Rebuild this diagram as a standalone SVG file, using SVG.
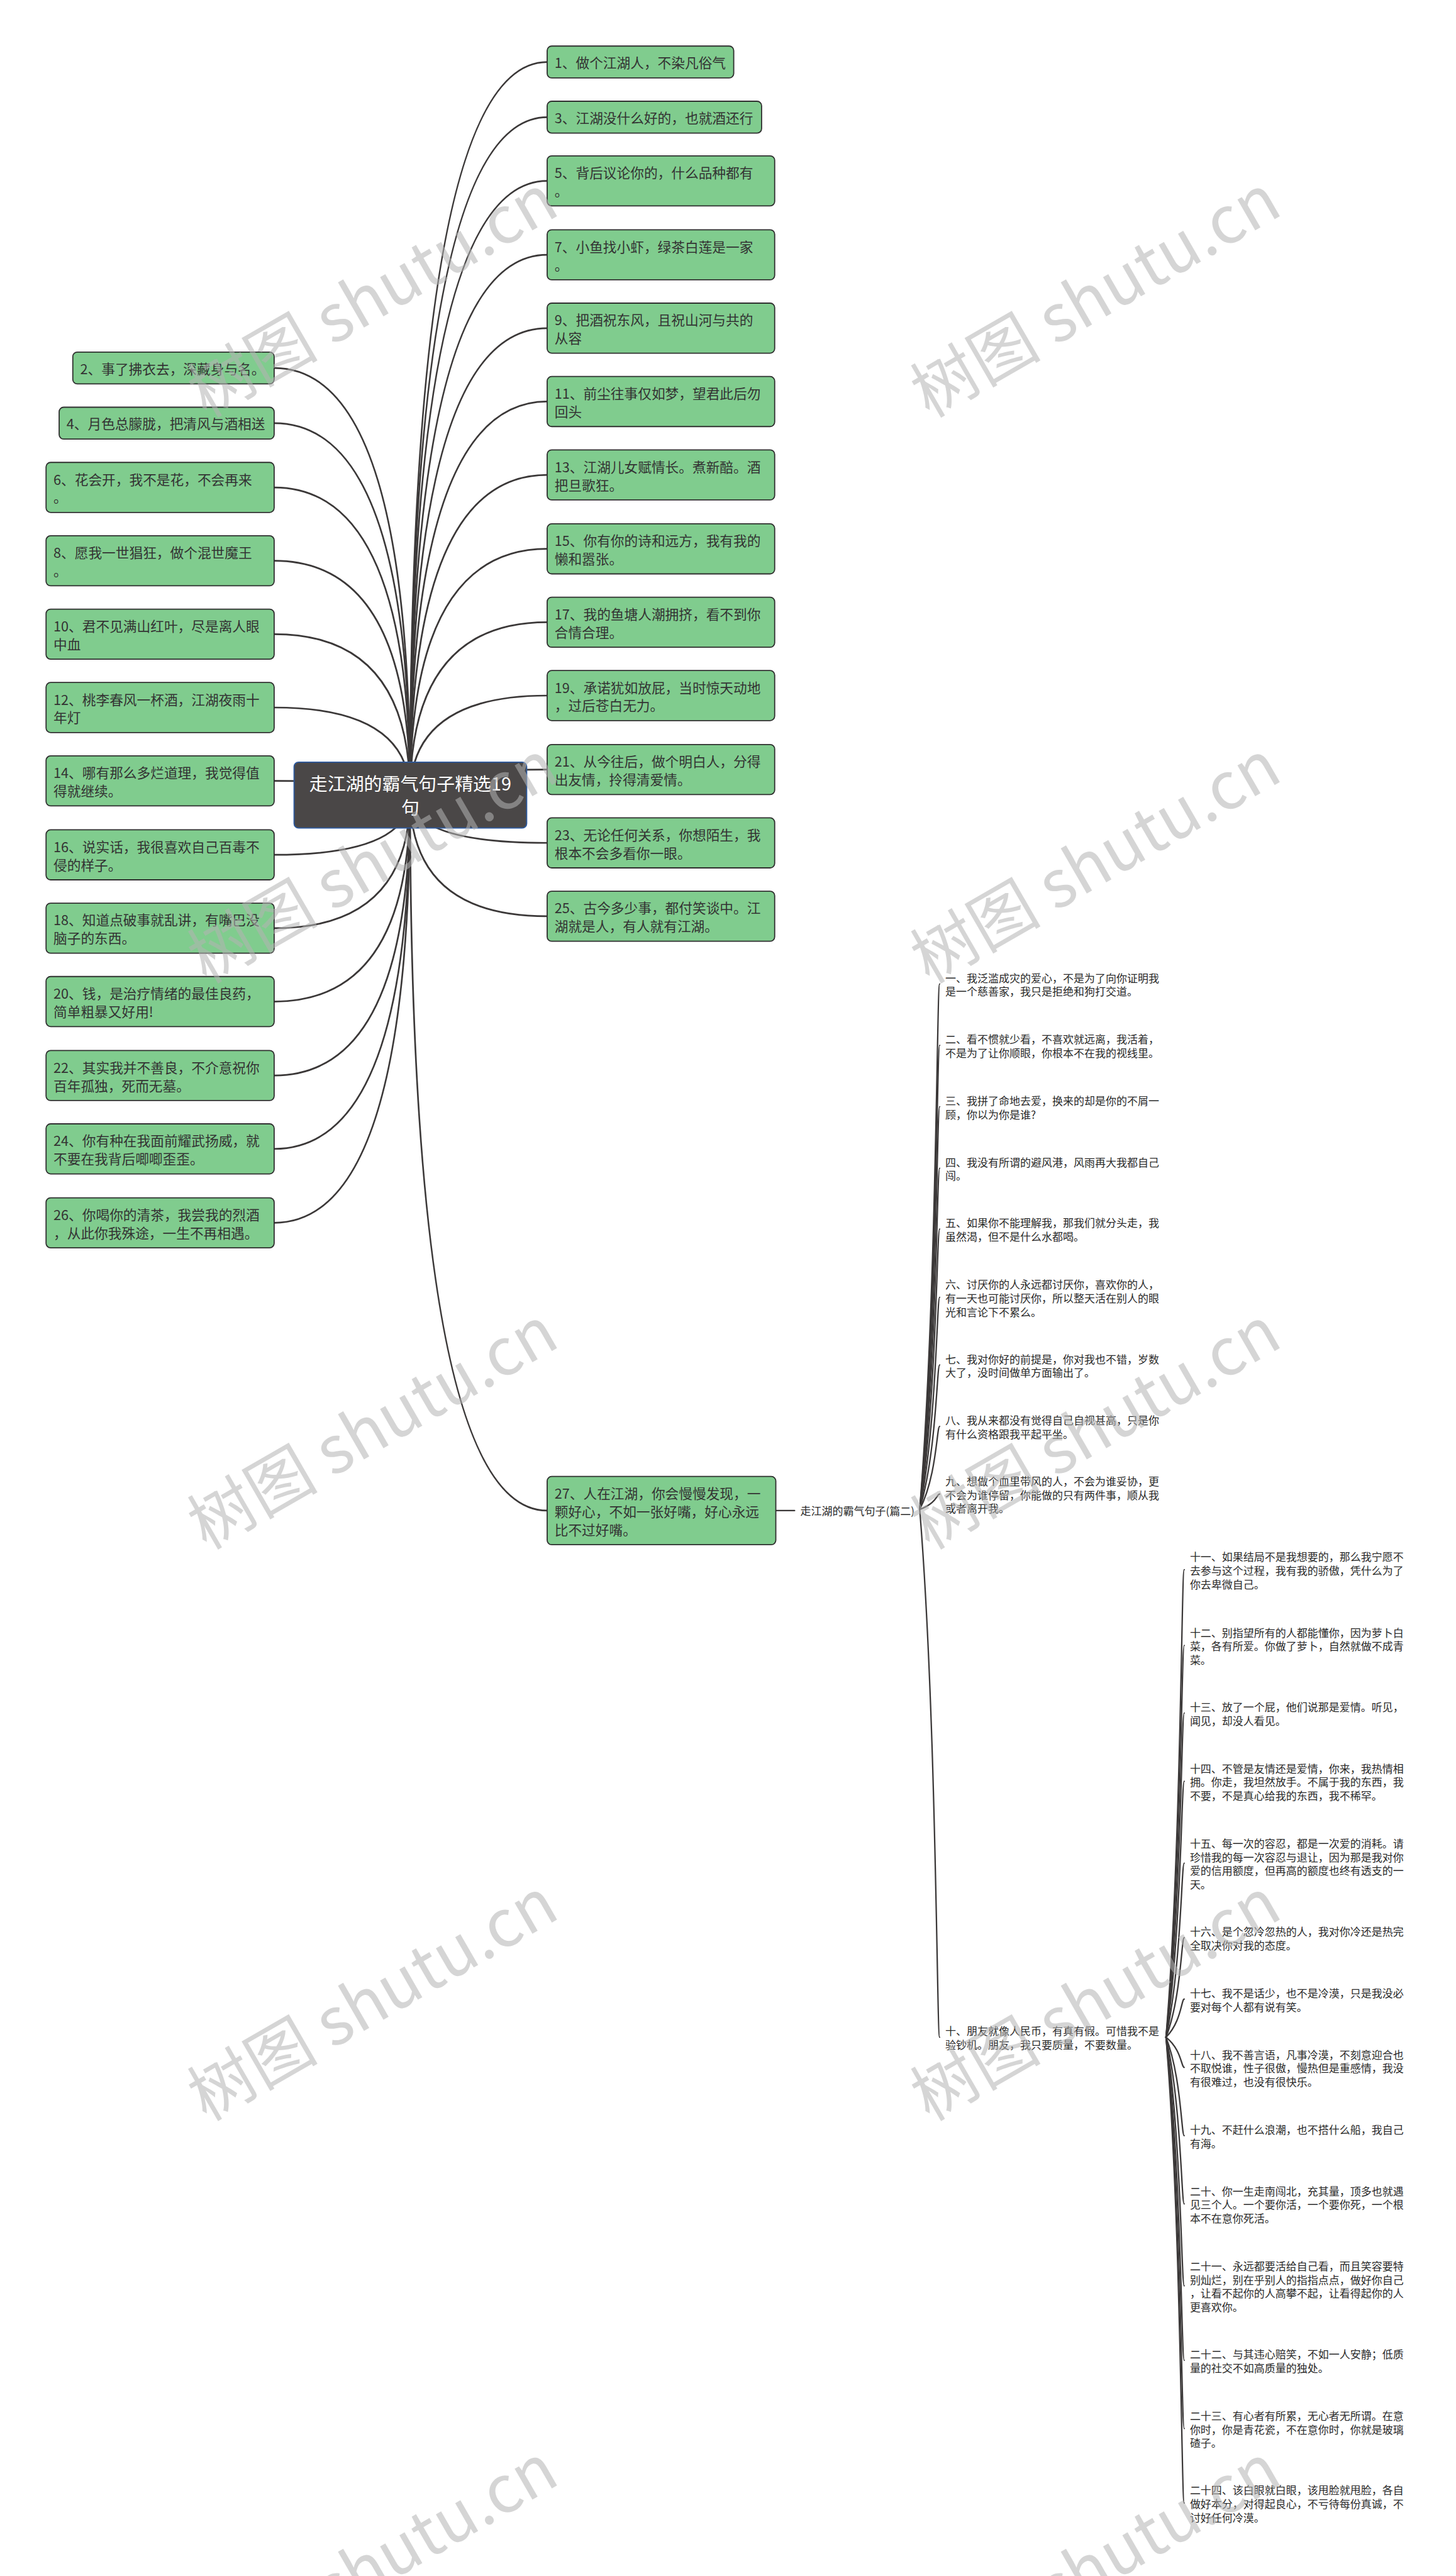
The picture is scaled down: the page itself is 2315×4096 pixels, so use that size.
<svg xmlns="http://www.w3.org/2000/svg" width="2315" height="4096" viewBox="0 0 2315 4096">
<style>
.bg{fill:#ffffff}
.n rect{fill:#80cc8e;stroke:#2f2f2f;stroke-width:2}
.t{font-family:"Noto Sans CJK SC","Noto Sans",sans-serif;font-size:24px;fill:#333333;dominant-baseline:central}
.s{font-family:"Noto Sans CJK SC","Noto Sans",sans-serif;font-size:18.8px;fill:#2a2a2a;dominant-baseline:central}
.c path{fill:none;stroke:#3b3838;stroke-width:3;stroke-linecap:round}
.c2 path{fill:none;stroke:#3b3838;stroke-width:2.5;stroke-linecap:round}
.root rect{fill:#4a4747;stroke:#2c5aa0;stroke-width:2}
.rt{font-family:"Noto Sans CJK SC","Noto Sans",sans-serif;font-size:32px;fill:#ffffff;dominant-baseline:central;text-anchor:middle}
.wm{font-family:"Noto Sans CJK SC","Liberation Serif",serif;font-size:115px;fill:#b4b4b4;opacity:0.55;text-anchor:middle;dominant-baseline:central}
</style>
<rect class="bg" x="0" y="0" width="2315" height="4096"/>
<g transform="scale(0.90434)">
<g id="connectors" class="c">
<path d="M721 1398 Q721 109 962 109"/>
<path d="M721 1398 Q721 206 962 206"/>
<path d="M721 1398 Q721 318 962 318"/>
<path d="M721 1398 Q721 448 962 448"/>
<path d="M721 1398 Q721 577 962 577"/>
<path d="M721 1398 Q721 706 962 706"/>
<path d="M721 1398 Q721 835 962 835"/>
<path d="M721 1398 Q721 965 962 965"/>
<path d="M721 1398 Q721 1094 962 1094"/>
<path d="M721 1398 Q721 1223 962 1223"/>
<path d="M721 1398 Q721 1353 962 1353"/>
<path d="M721 1398 Q721 1482 962 1482"/>
<path d="M721 1398 Q721 1611 962 1611"/>
<path d="M721 1398 Q721 2656 962 2656"/>
<path d="M721 1398 Q721 647 482 647"/>
<path d="M721 1398 Q721 744 482 744"/>
<path d="M721 1398 Q721 857 482 857"/>
<path d="M721 1398 Q721 986 482 986"/>
<path d="M721 1398 Q721 1115 482 1115"/>
<path d="M721 1398 Q721 1244 482 1244"/>
<path d="M721 1398 Q721 1373 482 1373"/>
<path d="M721 1398 Q721 1503 482 1503"/>
<path d="M721 1398 Q721 1632 482 1632"/>
<path d="M721 1398 Q721 1761 482 1761"/>
<path d="M721 1398 Q721 1891 482 1891"/>
<path d="M721 1398 Q721 2020 482 2020"/>
<path d="M721 1398 Q721 2150 482 2150"/>
</g>
<g id="connectors-sub" class="c2">
<path d="M1364 2656 L1397 2656"/>
<path d="M1617 2654 C1647 2284 1647 1730 1652 1730"/>
<path d="M1617 2654 C1647 2328 1647 1838 1652 1838"/>
<path d="M1617 2654 C1647 2371 1647 1946 1652 1946"/>
<path d="M1617 2654 C1647 2414 1647 2054 1652 2054"/>
<path d="M1617 2654 C1647 2457 1647 2161 1652 2161"/>
<path d="M1617 2654 C1647 2505 1647 2281 1652 2281"/>
<path d="M1617 2654 C1647 2552 1647 2400 1652 2400"/>
<path d="M1617 2654 C1647 2596 1647 2508 1652 2508"/>
<path d="M1617 2654 C1647 2643 1647 2627 1652 2627"/>
<path d="M1617 2654 C1647 3025 1647 3582 1652 3582"/>
<path d="M2050 3582 C2077 3253 2077 2760 2082 2760"/>
<path d="M2050 3582 C2077 3306 2077 2893 2082 2893"/>
<path d="M2050 3582 C2077 3354 2077 3012 2082 3012"/>
<path d="M2050 3582 C2077 3402 2077 3132 2082 3132"/>
<path d="M2050 3582 C2077 3460 2077 3276 2082 3276"/>
<path d="M2050 3582 C2077 3512 2077 3407 2082 3407"/>
<path d="M2050 3582 C2077 3555 2077 3515 2082 3515"/>
<path d="M2050 3582 C2077 3603 2077 3635 2082 3635"/>
<path d="M2050 3582 C2077 3651 2077 3755 2082 3755"/>
<path d="M2050 3582 C2077 3699 2077 3875 2082 3875"/>
<path d="M2050 3582 C2077 3757 2077 4019 2082 4019"/>
<path d="M2050 3582 C2077 3809 2077 4150 2082 4150"/>
<path d="M2050 3582 C2077 3857 2077 4270 2082 4270"/>
<path d="M2050 3582 C2077 3910 2077 4401 2082 4401"/>
</g>
<g id="root" class="root">
<rect x="517" y="1340" width="409" height="116" rx="8"/>
<text class="rt"><tspan x="721.5" y="1376">走江湖的霸气句子精选19</tspan><tspan x="721.5" y="1418">句</tspan></text>
</g>
<g id="n1" class="n"><rect x="962" y="81" width="328" height="56" rx="8"/><text class="t" x="975" y="109">1、做个江湖人，不染凡俗气</text></g>
<g id="n3" class="n"><rect x="962" y="178" width="377" height="56" rx="8"/><text class="t" x="975" y="206">3、江湖没什么好的，也就酒还行</text></g>
<g id="n5" class="n"><rect x="962" y="274" width="400" height="88" rx="8"/><text class="t"><tspan x="975" y="302">5、背后议论你的，什么品种都有</tspan><tspan x="975" y="334">。</tspan></text></g>
<g id="n7" class="n"><rect x="962" y="404" width="400" height="88" rx="8"/><text class="t"><tspan x="975" y="432">7、小鱼找小虾，绿茶白莲是一家</tspan><tspan x="975" y="464">。</tspan></text></g>
<g id="n9" class="n"><rect x="962" y="533" width="400" height="88" rx="8"/><text class="t"><tspan x="975" y="561">9、把酒祝东风，且祝山河与共的</tspan><tspan x="975" y="593">从容</tspan></text></g>
<g id="n11" class="n"><rect x="962" y="662" width="400" height="88" rx="8"/><text class="t"><tspan x="975" y="690">11、前尘往事仅如梦，望君此后勿</tspan><tspan x="975" y="722">回头</tspan></text></g>
<g id="n13" class="n"><rect x="962" y="791" width="400" height="88" rx="8"/><text class="t"><tspan x="975" y="819">13、江湖儿女赋情长。煮新醅。酒</tspan><tspan x="975" y="851">把旦歌狂。</tspan></text></g>
<g id="n15" class="n"><rect x="962" y="921" width="400" height="88" rx="8"/><text class="t"><tspan x="975" y="949">15、你有你的诗和远方，我有我的</tspan><tspan x="975" y="981">懒和嚣张。</tspan></text></g>
<g id="n17" class="n"><rect x="962" y="1050" width="400" height="88" rx="8"/><text class="t"><tspan x="975" y="1078">17、我的鱼塘人潮拥挤，看不到你</tspan><tspan x="975" y="1110">合情合理。</tspan></text></g>
<g id="n19" class="n"><rect x="962" y="1179" width="400" height="88" rx="8"/><text class="t"><tspan x="975" y="1207">19、承诺犹如放屁，当时惊天动地</tspan><tspan x="975" y="1239">，过后苍白无力。</tspan></text></g>
<g id="n21" class="n"><rect x="962" y="1309" width="400" height="88" rx="8"/><text class="t"><tspan x="975" y="1337">21、从今往后，做个明白人，分得</tspan><tspan x="975" y="1369">出友情，拎得清爱情。</tspan></text></g>
<g id="n23" class="n"><rect x="962" y="1438" width="400" height="88" rx="8"/><text class="t"><tspan x="975" y="1466">23、无论任何关系，你想陌生，我</tspan><tspan x="975" y="1498">根本不会多看你一眼。</tspan></text></g>
<g id="n25" class="n"><rect x="962" y="1567" width="400" height="88" rx="8"/><text class="t"><tspan x="975" y="1595">25、古今多少事，都付笑谈中。江</tspan><tspan x="975" y="1627">湖就是人，有人就有江湖。</tspan></text></g>
<g id="n27" class="n"><rect x="962" y="2596" width="402" height="120" rx="8"/><text class="t"><tspan x="975" y="2624">27、人在江湖，你会慢慢发现，一</tspan><tspan x="975" y="2656">颗好心，不如一张好嘴，好心永远</tspan><tspan x="975" y="2688">比不过好嘴。</tspan></text></g>
<g id="n2" class="n"><rect x="128" y="619" width="354" height="56" rx="8"/><text class="t" x="141" y="647">2、事了拂衣去，深藏身与名。</text></g>
<g id="n4" class="n"><rect x="104" y="716" width="378" height="56" rx="8"/><text class="t" x="117" y="744">4、月色总朦胧，把清风与酒相送</text></g>
<g id="n6" class="n"><rect x="81" y="813" width="401" height="88" rx="8"/><text class="t"><tspan x="94" y="841">6、花会开，我不是花，不会再来</tspan><tspan x="94" y="873">。</tspan></text></g>
<g id="n8" class="n"><rect x="81" y="942" width="401" height="88" rx="8"/><text class="t"><tspan x="94" y="970">8、愿我一世猖狂，做个混世魔王</tspan><tspan x="94" y="1002">。</tspan></text></g>
<g id="n10" class="n"><rect x="81" y="1071" width="401" height="88" rx="8"/><text class="t"><tspan x="94" y="1099">10、君不见满山红叶，尽是离人眼</tspan><tspan x="94" y="1131">中血</tspan></text></g>
<g id="n12" class="n"><rect x="81" y="1200" width="401" height="88" rx="8"/><text class="t"><tspan x="94" y="1228">12、桃李春风一杯酒，江湖夜雨十</tspan><tspan x="94" y="1260">年灯</tspan></text></g>
<g id="n14" class="n"><rect x="81" y="1329" width="401" height="88" rx="8"/><text class="t"><tspan x="94" y="1357">14、哪有那么多烂道理，我觉得值</tspan><tspan x="94" y="1389">得就继续。</tspan></text></g>
<g id="n16" class="n"><rect x="81" y="1459" width="401" height="88" rx="8"/><text class="t"><tspan x="94" y="1487">16、说实话，我很喜欢自己百毒不</tspan><tspan x="94" y="1519">侵的样子。</tspan></text></g>
<g id="n18" class="n"><rect x="81" y="1588" width="401" height="88" rx="8"/><text class="t"><tspan x="94" y="1616">18、知道点破事就乱讲，有嘴巴没</tspan><tspan x="94" y="1648">脑子的东西。</tspan></text></g>
<g id="n20" class="n"><rect x="81" y="1717" width="401" height="88" rx="8"/><text class="t"><tspan x="94" y="1745">20、钱，是治疗情绪的最佳良药，</tspan><tspan x="94" y="1777">简单粗暴又好用!</tspan></text></g>
<g id="n22" class="n"><rect x="81" y="1847" width="401" height="88" rx="8"/><text class="t"><tspan x="94" y="1875">22、其实我并不善良，不介意祝你</tspan><tspan x="94" y="1907">百年孤独，死而无墓。</tspan></text></g>
<g id="n24" class="n"><rect x="81" y="1976" width="401" height="88" rx="8"/><text class="t"><tspan x="94" y="2004">24、你有种在我面前耀武扬威，就</tspan><tspan x="94" y="2036">不要在我背后唧唧歪歪。</tspan></text></g>
<g id="n26" class="n"><rect x="81" y="2106" width="401" height="88" rx="8"/><text class="t"><tspan x="94" y="2134">26、你喝你的清茶，我尝我的烈酒</tspan><tspan x="94" y="2166">，从此你我殊途，一生不再相遇。</tspan></text></g>
<g id="sub-label"><text class="s" x="1407" y="2656">走江湖的霸气句子(篇二)</text></g>
<g id="s1"><text class="s"><tspan x="1662" y="1718">一、我泛滥成灾的爱心，不是为了向你证明我</tspan><tspan x="1662" y="1742">是一个慈善家，我只是拒绝和狗打交道。</tspan></text></g>
<g id="s2"><text class="s"><tspan x="1662" y="1826">二、看不惯就少看，不喜欢就远离，我活着，</tspan><tspan x="1662" y="1850">不是为了让你顺眼，你根本不在我的视线里。</tspan></text></g>
<g id="s3"><text class="s"><tspan x="1662" y="1934">三、我拼了命地去爱，换来的却是你的不屑一</tspan><tspan x="1662" y="1958">顾，你以为你是谁?</tspan></text></g>
<g id="s4"><text class="s"><tspan x="1662" y="2042">四、我没有所谓的避风港，风雨再大我都自己</tspan><tspan x="1662" y="2066">闯。</tspan></text></g>
<g id="s5"><text class="s"><tspan x="1662" y="2149">五、如果你不能理解我，那我们就分头走，我</tspan><tspan x="1662" y="2173">虽然渴，但不是什么水都喝。</tspan></text></g>
<g id="s6"><text class="s"><tspan x="1662" y="2257">六、讨厌你的人永远都讨厌你，喜欢你的人，</tspan><tspan x="1662" y="2281">有一天也可能讨厌你，所以整天活在别人的眼</tspan><tspan x="1662" y="2305">光和言论下不累么。</tspan></text></g>
<g id="s7"><text class="s"><tspan x="1662" y="2388">七、我对你好的前提是，你对我也不错，岁数</tspan><tspan x="1662" y="2412">大了，没时间做单方面输出了。</tspan></text></g>
<g id="s8"><text class="s"><tspan x="1662" y="2496">八、我从来都没有觉得自己自视甚高，只是你</tspan><tspan x="1662" y="2520">有什么资格跟我平起平坐。</tspan></text></g>
<g id="s9"><text class="s"><tspan x="1662" y="2603">九、想做个血里带风的人，不会为谁妥协，更</tspan><tspan x="1662" y="2627">不会为谁停留，你能做的只有两件事，顺从我</tspan><tspan x="1662" y="2651">或者离开我。</tspan></text></g>
<g id="s10"><text class="s"><tspan x="1662" y="3570">十、朋友就像人民币，有真有假。可惜我不是</tspan><tspan x="1662" y="3594">验钞机。朋友，我只要质量，不要数量。</tspan></text></g>
<g id="s11"><text class="s"><tspan x="2092" y="2736">十一、如果结局不是我想要的，那么我宁愿不</tspan><tspan x="2092" y="2760">去参与这个过程，我有我的骄傲，凭什么为了</tspan><tspan x="2092" y="2784">你去卑微自己。</tspan></text></g>
<g id="s12"><text class="s"><tspan x="2092" y="2869">十二、别指望所有的人都能懂你，因为萝卜白</tspan><tspan x="2092" y="2893">菜，各有所爱。你做了萝卜，自然就做不成青</tspan><tspan x="2092" y="2917">菜。</tspan></text></g>
<g id="s13"><text class="s"><tspan x="2092" y="3000">十三、放了一个屁，他们说那是爱情。听见，</tspan><tspan x="2092" y="3024">闻见，却没人看见。</tspan></text></g>
<g id="s14"><text class="s"><tspan x="2092" y="3108">十四、不管是友情还是爱情，你来，我热情相</tspan><tspan x="2092" y="3132">拥。你走，我坦然放手。不属于我的东西，我</tspan><tspan x="2092" y="3156">不要，不是真心给我的东西，我不稀罕。</tspan></text></g>
<g id="s15"><text class="s"><tspan x="2092" y="3240">十五、每一次的容忍，都是一次爱的消耗。请</tspan><tspan x="2092" y="3264">珍惜我的每一次容忍与退让，因为那是我对你</tspan><tspan x="2092" y="3288">爱的信用额度，但再高的额度也终有透支的一</tspan><tspan x="2092" y="3312">天。</tspan></text></g>
<g id="s16"><text class="s"><tspan x="2092" y="3395">十六、是个忽冷忽热的人，我对你冷还是热完</tspan><tspan x="2092" y="3419">全取决你对我的态度。</tspan></text></g>
<g id="s17"><text class="s"><tspan x="2092" y="3503">十七、我不是话少，也不是冷漠，只是我没必</tspan><tspan x="2092" y="3527">要对每个人都有说有笑。</tspan></text></g>
<g id="s18"><text class="s"><tspan x="2092" y="3611">十八、我不善言语，凡事冷漠，不刻意迎合也</tspan><tspan x="2092" y="3635">不取悦谁，性子很傲，慢热但是重感情，我没</tspan><tspan x="2092" y="3659">有很难过，也没有很快乐。</tspan></text></g>
<g id="s19"><text class="s"><tspan x="2092" y="3743">十九、不赶什么浪潮，也不搭什么船，我自己</tspan><tspan x="2092" y="3767">有海。</tspan></text></g>
<g id="s20"><text class="s"><tspan x="2092" y="3851">二十、你一生走南闯北，充其量，顶多也就遇</tspan><tspan x="2092" y="3875">见三个人。一个要你活，一个要你死，一个根</tspan><tspan x="2092" y="3899">本不在意你死活。</tspan></text></g>
<g id="s21"><text class="s"><tspan x="2092" y="3983">二十一、永远都要活给自己看，而且笑容要特</tspan><tspan x="2092" y="4007">别灿烂，别在乎别人的指指点点，做好你自己</tspan><tspan x="2092" y="4031">，让看不起你的人高攀不起，让看得起你的人</tspan><tspan x="2092" y="4055">更喜欢你。</tspan></text></g>
<g id="s22"><text class="s"><tspan x="2092" y="4138">二十二、与其违心赔笑，不如一人安静；低质</tspan><tspan x="2092" y="4162">量的社交不如高质量的独处。</tspan></text></g>
<g id="s23"><text class="s"><tspan x="2092" y="4246">二十三、有心者有所累，无心者无所谓。在意</tspan><tspan x="2092" y="4270">你时，你是青花瓷，不在意你时，你就是玻璃</tspan><tspan x="2092" y="4294">碴子。</tspan></text></g>
<g id="s24"><text class="s"><tspan x="2092" y="4377">二十四、该白眼就白眼，该甩脸就甩脸，各自</tspan><tspan x="2092" y="4401">做好本分，对得起良心，不亏待每份真诚，不</tspan><tspan x="2092" y="4425">讨好任何冷漠。</tspan></text></g>
<g id="watermarks">
<text class="wm" x="650" y="512" transform="rotate(-30 650 512)">树图 shutu.cn</text>
<text class="wm" x="1921" y="512" transform="rotate(-30 1921 512)">树图 shutu.cn</text>
<text class="wm" x="650" y="1507" transform="rotate(-30 650 1507)">树图 shutu.cn</text>
<text class="wm" x="1921" y="1507" transform="rotate(-30 1921 1507)">树图 shutu.cn</text>
<text class="wm" x="650" y="2502" transform="rotate(-30 650 2502)">树图 shutu.cn</text>
<text class="wm" x="1921" y="2502" transform="rotate(-30 1921 2502)">树图 shutu.cn</text>
<text class="wm" x="650" y="3507" transform="rotate(-30 650 3507)">树图 shutu.cn</text>
<text class="wm" x="1921" y="3507" transform="rotate(-30 1921 3507)">树图 shutu.cn</text>
<text class="wm" x="650" y="4502" transform="rotate(-30 650 4502)">树图 shutu.cn</text>
<text class="wm" x="1921" y="4502" transform="rotate(-30 1921 4502)">树图 shutu.cn</text>
</g>
</g>
</svg>
